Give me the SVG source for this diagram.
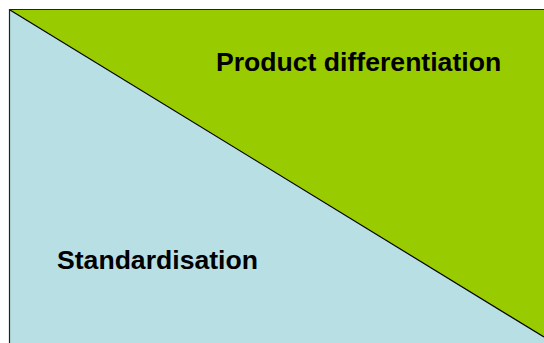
<svg xmlns="http://www.w3.org/2000/svg" width="544" height="343" viewBox="0 0 544 343">
<style>
.lbl{font-family:"Liberation Sans",Arial,sans-serif;font-weight:bold;font-size:26.6px;fill:#000}
</style>
<rect width="544" height="343" fill="#fff"/>
<polygon id="standardisation-area" points="10,10 544,337 544,343 10,343" fill="#B8DFE3"/>
<polygon id="differentiation-area" points="10,10 544,10 544,337" fill="#99CC00"/>
<line x1="10" y1="10" x2="544" y2="337" stroke="#000" stroke-width="1.2"/>
<path d="M9.5,343 V9.5 H544" fill="none" stroke="#222" stroke-width="1.2"/>
<text class="lbl" x="216" y="71">Product differentiation</text>
<text class="lbl" x="57" y="269">Standardisation</text>
</svg>
